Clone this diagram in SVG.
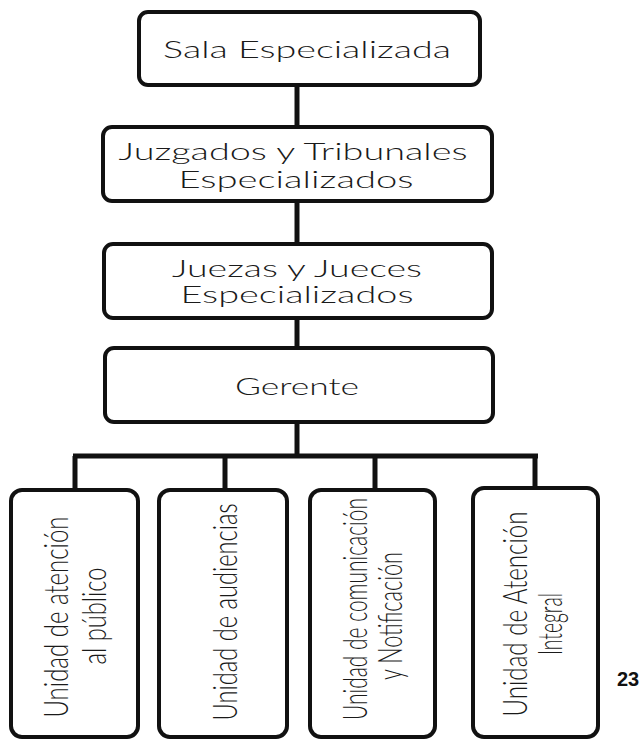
<svg xmlns="http://www.w3.org/2000/svg" width="642" height="742" viewBox="0 0 642 742">
<style>
.box{fill:#fff;stroke:#111;stroke-width:4}
.con{stroke:#111;stroke-width:5;fill:none}
.t{font-family:Lato,"Liberation Sans",sans-serif;font-weight:300;font-size:23px;fill:#1a1a1a;text-anchor:middle}
.v{font-family:Lato,"Liberation Sans",sans-serif;font-weight:300;font-size:34px;fill:#1a1a1a;text-anchor:middle}
.pg{font-family:"Liberation Sans",Arial,sans-serif;font-size:20px;font-weight:bold;fill:#111}
</style>
<rect width="642" height="742" fill="#fff"/>
<g id="connectors">
<line class="con" x1="297" y1="86" x2="297" y2="127"/>
<line class="con" x1="297" y1="201" x2="297" y2="244"/>
<line class="con" x1="297" y1="318" x2="297" y2="348"/>
<line class="con" x1="297" y1="422" x2="297" y2="456"/>
<line class="con" x1="73" y1="456" x2="538" y2="456"/>
<line class="con" x1="75" y1="456" x2="75" y2="490"/>
<line class="con" x1="225" y1="456" x2="225" y2="490"/>
<line class="con" x1="375" y1="456" x2="375" y2="490"/>
<line class="con" x1="535" y1="456" x2="535" y2="488"/>
</g>
<g id="sala">
<rect class="box" x="139" y="12" width="341" height="73" rx="9"/>
<text class="t" x="307" y="58" textLength="288" lengthAdjust="spacingAndGlyphs">Sala Especializada</text>
</g>
<g id="juzgados">
<rect class="box" x="103" y="127" width="389" height="74" rx="9"/>
<text class="t" x="293" y="160" textLength="349" lengthAdjust="spacingAndGlyphs">Juzgados y Tribunales</text>
<text class="t" x="296" y="188" textLength="235" lengthAdjust="spacingAndGlyphs">Especializados</text>
</g>
<g id="juezas">
<rect class="box" x="104" y="244" width="388" height="74" rx="9"/>
<text class="t" x="297" y="277" textLength="250" lengthAdjust="spacingAndGlyphs">Juezas y Jueces</text>
<text class="t" x="297" y="303" textLength="233" lengthAdjust="spacingAndGlyphs">Especializados</text>
</g>
<g id="gerente">
<rect class="box" x="105" y="348" width="388" height="74" rx="9"/>
<text class="t" x="297" y="395" textLength="124" lengthAdjust="spacingAndGlyphs">Gerente</text>
</g>
<g id="unidad-atencion-publico">
<rect class="box" x="11" y="490" width="127" height="247" rx="11"/>
<text class="v" transform="translate(68,617) rotate(-90)" textLength="201" lengthAdjust="spacingAndGlyphs">Unidad de atención</text>
<text class="v" transform="translate(106,616) rotate(-90)" textLength="97" lengthAdjust="spacingAndGlyphs">al público</text>
</g>
<g id="unidad-audiencias">
<rect class="box" x="159" y="490" width="128" height="247" rx="11"/>
<text class="v" transform="translate(237,612) rotate(-90)" textLength="217" lengthAdjust="spacingAndGlyphs">Unidad de audiencias</text>
</g>
<g id="unidad-comunicacion">
<rect class="box" x="310" y="490" width="125" height="247" rx="11"/>
<text class="v" transform="translate(367,609) rotate(-90)" textLength="222" lengthAdjust="spacingAndGlyphs">Unidad de comunicación</text>
<text class="v" transform="translate(402,616) rotate(-90)" textLength="128" lengthAdjust="spacingAndGlyphs">y Notificación</text>
</g>
<g id="unidad-atencion-integral">
<rect class="box" x="473" y="488" width="125" height="249" rx="11"/>
<text class="v" transform="translate(527,614) rotate(-90)" textLength="205" lengthAdjust="spacingAndGlyphs">Unidad de Atención</text>
<text class="v" transform="translate(562,624) rotate(-90)" textLength="62" lengthAdjust="spacingAndGlyphs">Integral</text>
</g>
<text class="pg" x="617" y="686">23</text>
</svg>
